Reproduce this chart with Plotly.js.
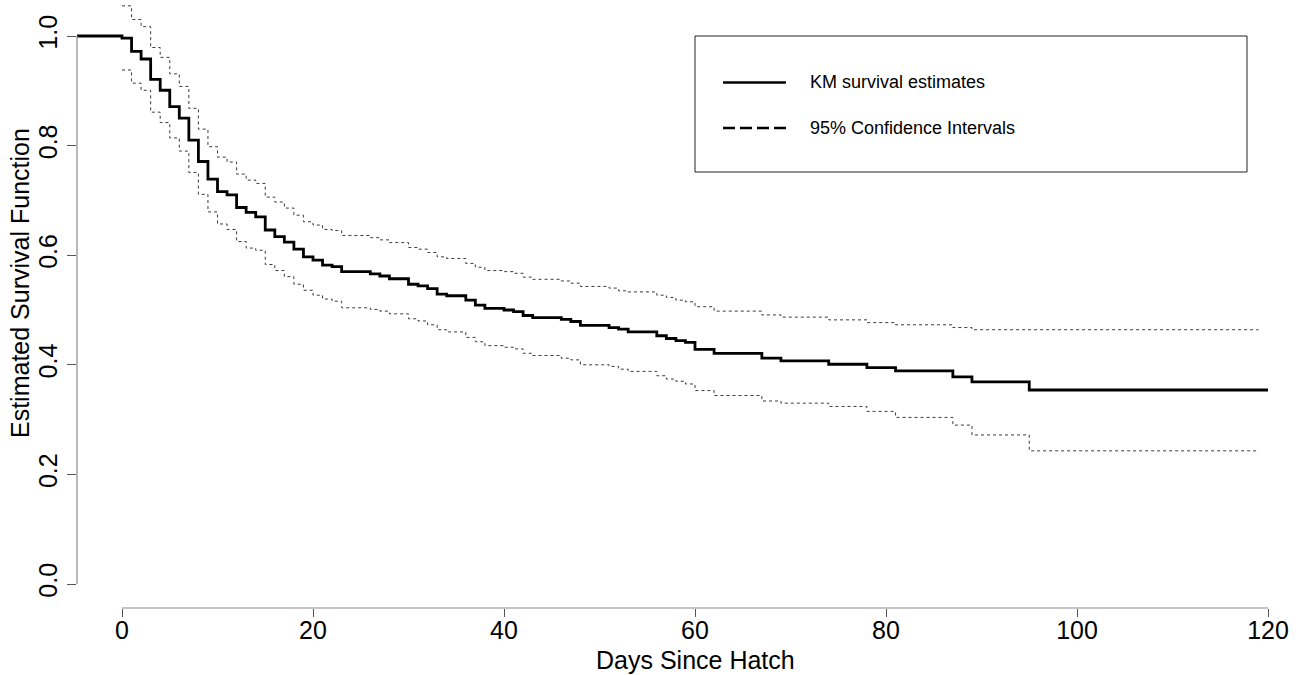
<!DOCTYPE html>
<html>
<head>
<meta charset="utf-8">
<script src="https://cdn.plot.ly/plotly-3.0.1.min.js"></script>
<style>html,body{margin:0;padding:0;background:#fff;}#chart{width:1302px;height:675px;}</style>
</head>
<body>
<div id="chart"></div>
<script>
// Kaplan-Meier estimate (step function, days since hatch)
const kmDays = [-4.7, 0, 1, 2, 3, 4, 5, 6, 7, 8, 9, 10, 11, 12, 13, 14, 15, 16, 17, 18, 19, 20,
  21, 22, 23, 26, 27, 28, 30, 31, 32, 33, 34, 36, 37, 38, 40, 41, 42, 43, 46, 47, 48, 51, 52, 53,
  56, 57, 58, 59, 60, 62, 67, 69, 74, 78, 81, 87, 89, 95, 120];
const kmSurv = [1.0, 0.996, 0.972, 0.958, 0.921, 0.901, 0.871, 0.850, 0.810, 0.771, 0.739, 0.716, 0.710,
  0.687, 0.678, 0.670, 0.646, 0.634, 0.624, 0.611, 0.597, 0.591,
  0.582, 0.579, 0.570, 0.566, 0.562, 0.557, 0.547, 0.544, 0.539, 0.529, 0.526, 0.518, 0.509, 0.503,
  0.500, 0.497, 0.490, 0.486, 0.483, 0.479, 0.472, 0.468, 0.465, 0.460,
  0.453, 0.448, 0.444, 0.441, 0.428, 0.421, 0.412, 0.407, 0.401, 0.395, 0.389, 0.378, 0.369, 0.354, 0.354];

// 95% confidence limits
const ciDays = [0, 1, 2, 3, 4, 5, 6, 7, 8, 9, 10, 11, 12, 13, 14, 15, 16, 17, 18, 19, 20,
  21, 22, 23, 26, 27, 28, 30, 31, 32, 33, 34, 36, 37, 38, 40, 41, 42, 43, 46, 47, 48, 51, 52, 53,
  56, 57, 58, 59, 60, 62, 67, 69, 74, 78, 81, 87, 89, 95, 119];
const ciUpper = [1.055, 1.030, 1.017, 0.979, 0.961, 0.931, 0.908, 0.868, 0.830, 0.798, 0.779, 0.770,
  0.748, 0.737, 0.731, 0.706, 0.697, 0.686, 0.673, 0.661, 0.655,
  0.647, 0.645, 0.636, 0.632, 0.628, 0.623, 0.614, 0.611, 0.605, 0.597, 0.594, 0.585, 0.578, 0.572,
  0.570, 0.567, 0.560, 0.556, 0.553, 0.549, 0.543, 0.540, 0.535, 0.533,
  0.527, 0.523, 0.518, 0.515, 0.506, 0.498, 0.491, 0.487, 0.482, 0.477, 0.473, 0.468, 0.464, 0.464, 0.464];
const ciLower = [0.938, 0.914, 0.901, 0.861, 0.842, 0.814, 0.790, 0.751, 0.711, 0.679, 0.657, 0.647,
  0.625, 0.613, 0.609, 0.583, 0.572, 0.561, 0.547, 0.536, 0.527,
  0.520, 0.516, 0.504, 0.501, 0.498, 0.493, 0.484, 0.480, 0.473, 0.464, 0.460, 0.450, 0.442, 0.435,
  0.432, 0.429, 0.421, 0.417, 0.412, 0.409, 0.400, 0.397, 0.392, 0.388,
  0.380, 0.374, 0.370, 0.365, 0.353, 0.344, 0.334, 0.330, 0.324, 0.315, 0.304, 0.290, 0.272, 0.243, 0.243];

const xTicks = [0, 20, 40, 60, 80, 100, 120];
const yTicks = [0.0, 0.2, 0.4, 0.6, 0.8, 1.0];
const yTickText = ['0.0', '0.2', '0.4', '0.6', '0.8', '1.0'];
const legendLabels = ['KM survival estimates', '95% Confidence Intervals'];
const xTitle = 'Days Since Hatch';
const yTitle = 'Estimated Survival Function';

// Layout geometry (pixels)
const W = 1302, H = 675;
const mL = 77, mR = 5, mT = 2, mB = 67;
const plotW = W - mL - mR, plotH = H - mT - mB;
const x0px = 122, x120px = 1268;           // screen x of day 0 and day 120
const pxPerDay = (x120px - x0px) / 120;
const y1px = 36, y0px = 584;               // screen y of 1.0 and 0.0
const pxPerUnit = (y0px - y1px);
const xRange = [(mL - x0px) / pxPerDay, (mL + plotW - x0px) / pxPerDay];
const yRange = [(y0px - (mT + plotH)) / pxPerUnit, (y0px - mT) / pxPerUnit];
const px = v => (v - mL) / plotW;
const py = v => (mT + plotH - v) / plotH;

const FONT = 'Liberation Sans, Arimo, Arial, sans-serif';

const traces = [
  {x: ciDays, y: ciUpper, mode: 'lines', line: {shape: 'hv', color: '#3a3a3a', width: 1, dash: 'dot'}, hoverinfo: 'skip', showlegend: false},
  {x: ciDays, y: ciLower, mode: 'lines', line: {shape: 'hv', color: '#3a3a3a', width: 1, dash: 'dot'}, hoverinfo: 'skip', showlegend: false},
  {x: kmDays, y: kmSurv, mode: 'lines', line: {shape: 'hv', color: '#000', width: 2.8}, hoverinfo: 'skip', showlegend: false}
];

const shapes = [
  // R-style axis lines spanning first to last tick
  {type: 'line', xref: 'x', yref: 'paper', x0: xTicks[0], x1: xTicks[xTicks.length - 1], y0: 0, y1: 0, line: {color: '#8a8a8a', width: 1.2}},
  {type: 'line', xref: 'paper', yref: 'y', x0: 0, x1: 0, y0: yTicks[0], y1: yTicks[yTicks.length - 1], line: {color: '#8a8a8a', width: 1.2}},
  // legend box
  {type: 'rect', xref: 'paper', yref: 'paper', x0: px(695), x1: px(1247), y0: py(172), y1: py(36), line: {color: '#222', width: 1}, fillcolor: 'rgba(0,0,0,0)'},
  {type: 'line', xref: 'paper', yref: 'paper', x0: px(723), x1: px(786), y0: py(82.5), y1: py(82.5), line: {color: '#000', width: 2.6}},
  {type: 'line', xref: 'paper', yref: 'paper', x0: px(723), x1: px(786), y0: py(128), y1: py(128), line: {color: '#000', width: 2.6, dash: '12px,5px'}}
];

const annotations = [
  {xref: 'paper', yref: 'paper', x: px(808), y: py(82.5), xanchor: 'left', yanchor: 'middle', showarrow: false, text: legendLabels[0], font: {family: FONT, size: 18, color: '#000'}},
  {xref: 'paper', yref: 'paper', x: px(808), y: py(128), xanchor: 'left', yanchor: 'middle', showarrow: false, text: legendLabels[1], font: {family: FONT, size: 18, color: '#000'}},
  // axis titles (centred like the R plot region, which extends past the right edge)
  {xref: 'paper', yref: 'paper', x: px(695), y: py(660), xanchor: 'center', yanchor: 'middle', showarrow: false, text: xTitle, font: {family: FONT, size: 25, color: '#000'}},
  {xref: 'paper', yref: 'paper', x: px(20), y: py(283), xanchor: 'center', yanchor: 'middle', showarrow: false, textangle: -90, text: yTitle, font: {family: FONT, size: 25, color: '#000'}}
];

const layout = {
  width: W, height: H,
  margin: {l: mL, r: mR, t: mT, b: mB, pad: 0},
  paper_bgcolor: '#fff', plot_bgcolor: '#fff',
  showlegend: false,
  font: {family: FONT, color: '#000'},
  xaxis: {
    range: xRange, fixedrange: true, automargin: false,
    showgrid: false, zeroline: false, showline: false,
    tickmode: 'array', tickvals: xTicks, ticktext: xTicks.map(String),
    ticks: 'outside', ticklen: 8, tickwidth: 1, tickcolor: '#555',
    ticklabelstandoff: -8,
    tickfont: {family: FONT, size: 25, color: '#000'}
  },
  yaxis: {
    range: yRange, fixedrange: true, automargin: false,
    showgrid: false, zeroline: false, showline: false,
    tickmode: 'array', tickvals: yTicks, ticktext: yTickText, tickangle: -90,
    ticks: 'outside', ticklen: 9, tickwidth: 1, tickcolor: '#555',
    tickfont: {family: FONT, size: 25, color: '#000'}
  },
  shapes: shapes,
  annotations: annotations
};

Plotly.newPlot('chart', traces, layout, {displayModeBar: false, staticPlot: true});
</script>
</body>
</html>
